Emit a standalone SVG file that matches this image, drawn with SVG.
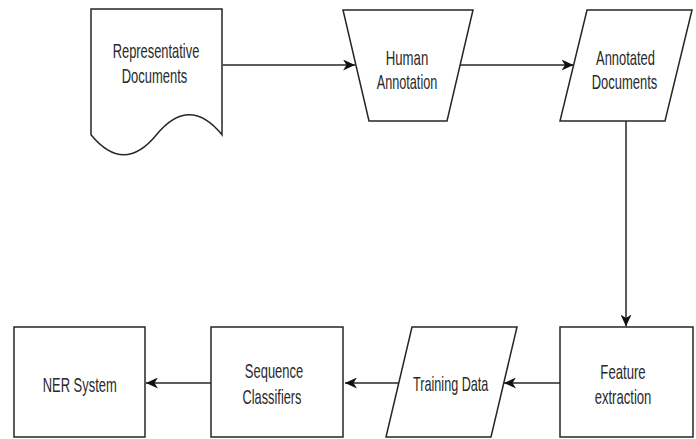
<svg xmlns="http://www.w3.org/2000/svg" width="696" height="439" viewBox="0 0 696 439">
<defs>
<style>
.shape{fill:#ffffff;stroke:#262626;stroke-width:1.5}
.edge{fill:none;stroke:#262626;stroke-width:1.5}
.lbl{font-family:"Liberation Sans",Arial,sans-serif;font-size:21px;fill:#2a2a2a;text-anchor:middle}
</style>
<marker id="arr" markerUnits="userSpaceOnUse" markerWidth="13" markerHeight="11" viewBox="0 0 13 11" refX="12" refY="5.5" orient="auto">
<path d="M0,0 L12,5.5 L0,11 L3.5,5.5 Z" fill="#111111"/>
</marker>
</defs>
<rect width="696" height="439" fill="#ffffff"/>
<g id="connectors">
<path class="edge" d="M222.7,65 H355" marker-end="url(#arr)"/>
<path class="edge" d="M460,65 H573.5" marker-end="url(#arr)"/>
<path class="edge" d="M626,121 V326.5" marker-end="url(#arr)"/>
<path class="edge" d="M560,383 H504" marker-end="url(#arr)"/>
<path class="edge" d="M399,383 H345" marker-end="url(#arr)"/>
<path class="edge" d="M211,383 H146" marker-end="url(#arr)"/>
</g>
<g id="representative-documents">
<path class="shape" d="M91,9 H222 V134.8 Q189.25,94.8 156.5,134.8 Q123.75,174.8 91,134.8 Z"/>
<text class="lbl" x="156" y="58" textLength="86.6" lengthAdjust="spacingAndGlyphs">Representative</text>
<text class="lbl" x="154.5" y="83" textLength="65.6" lengthAdjust="spacingAndGlyphs">Documents</text>
</g>
<g id="human-annotation">
<path class="shape" d="M343,10 H473 L447,121 H369 Z"/>
<text class="lbl" x="407" y="65" textLength="42.5" lengthAdjust="spacingAndGlyphs">Human</text>
<text class="lbl" x="407" y="89" textLength="60.6" lengthAdjust="spacingAndGlyphs">Annotation</text>
</g>
<g id="annotated-documents">
<path class="shape" d="M587,10 H692 L665,121 H560 Z"/>
<text class="lbl" x="625.5" y="65" textLength="59" lengthAdjust="spacingAndGlyphs">Annotated</text>
<text class="lbl" x="624.5" y="89" textLength="65.6" lengthAdjust="spacingAndGlyphs">Documents</text>
</g>
<g id="feature-extraction">
<rect class="shape" x="560" y="327" width="133" height="110"/>
<text class="lbl" x="623" y="378.5" textLength="45.3" lengthAdjust="spacingAndGlyphs">Feature</text>
<text class="lbl" x="623" y="403.5" textLength="56.7" lengthAdjust="spacingAndGlyphs">extraction</text>
</g>
<g id="training-data">
<path class="shape" d="M412,327 H517 L491,437 H386 Z"/>
<text class="lbl" x="450.7" y="391" textLength="75.3" lengthAdjust="spacingAndGlyphs">Training Data</text>
</g>
<g id="sequence-classifiers">
<rect class="shape" x="211" y="327" width="132" height="110"/>
<text class="lbl" x="274" y="378" textLength="58.3" lengthAdjust="spacingAndGlyphs">Sequence</text>
<text class="lbl" x="272" y="404" textLength="59" lengthAdjust="spacingAndGlyphs">Classifiers</text>
</g>
<g id="ner-system">
<rect class="shape" x="14" y="327" width="131" height="110"/>
<text class="lbl" x="79.7" y="391.5" textLength="74" lengthAdjust="spacingAndGlyphs">NER System</text>
</g>
</svg>
